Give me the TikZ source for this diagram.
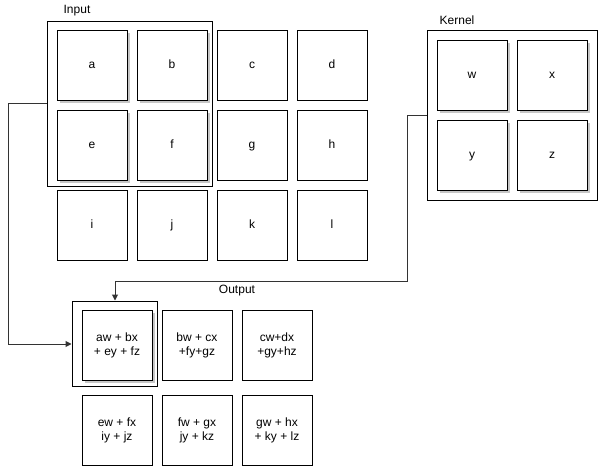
\documentclass[tikz,border=0pt]{standalone}
\usepackage{fontspec}
\setmainfont{Liberation Sans}
\usetikzlibrary{arrows.meta,shadows}
\begin{document}
\begin{tikzpicture}[x=1pt,y=-1pt,
  cell/.style={draw=black,fill=white,line width=1pt,minimum width=70pt,minimum height=70pt,inner sep=0pt,align=center,font=\fontsize{12}{14}\selectfont},
  one/.style={text height=8.5pt,text depth=2.5pt},
  shcell/.style={cell,drop shadow={shadow xshift=3pt,shadow yshift=-3pt,fill=black!22,opacity=1}},
  frame/.style={draw=black,line width=1pt,inner sep=0pt},
  lbl/.style={font=\fontsize{12}{14}\selectfont,inner sep=0pt},
  conn/.style={draw=black!80,line width=1pt},
  arr/.style={conn,-{Triangle[length=6pt,width=6pt]}}
]
\useasboundingbox (0,0) rectangle (598,466);
% frames
\node[frame,minimum width=165pt,minimum height=165pt] (inframe) at (129.5,103.5) {};
\node[frame,minimum width=170pt,minimum height=170pt] (kframe) at (512,115) {};
\node[frame,minimum width=85pt,minimum height=85pt] (oframe) at (114.5,343.5) {};
% input cells
\node[shcell,one] (a) at (92,65) {a};
\node[shcell,one] (b) at (172,65) {b};
\node[cell,one] (c) at (252,65) {c};
\node[cell,one] (d) at (332,65) {d};
\node[shcell,one] (e) at (92,145) {e};
\node[shcell,one] (f) at (172,145) {f};
\node[cell,one] (g) at (252,145) {g};
\node[cell,one] (h) at (332,145) {h};
\node[cell,one] (i) at (92,225) {i};
\node[cell,one] (j) at (172,225) {j};
\node[cell,one] (k) at (252,225) {k};
\node[cell,one] (l) at (332,225) {l};
% kernel cells
\node[shcell,one] (w) at (472,75) {w};
\node[shcell,one] (xx) at (552,75) {x};
\node[shcell,one] (yy) at (472,155) {y};
\node[shcell,one] (z) at (552,155) {z};
% output cells
\node[shcell] (o1) at (117,345) {aw + bx\\+ ey + fz};
\node[cell] (o2) at (197,345) {bw + cx\\+fy+gz};
\node[cell] (o3) at (277,345) {cw+dx\\+gy+hz};
\node[cell] (o4) at (117,430) {ew + fx\\iy + jz};
\node[cell] (o5) at (197,430) {fw + gx\\jy + kz};
\node[cell] (o6) at (277,430) {gw + hx\\+ ky + lz};
% labels
\node[lbl] (tin) at (77,11) {Input};
\node[lbl] (tk) at (457,20) {Kernel};
\node[lbl] (tout) at (237,291) {Output};
% connectors
\coordinate (c1a) at (8,103.5);
\coordinate (c1b) at (8,344);
\draw[arr] (inframe.west) -- (c1a) -- (c1b) -- (oframe.west |- c1b);
\coordinate (c2a) at (407,115);
\coordinate (c2b) at (407,281);
\coordinate (c2c) at (115,281);
\draw[arr] (kframe.west) -- (c2a) -- (c2b) -- (c2c) -- (c2c |- oframe.north);
\end{tikzpicture}
\end{document}
